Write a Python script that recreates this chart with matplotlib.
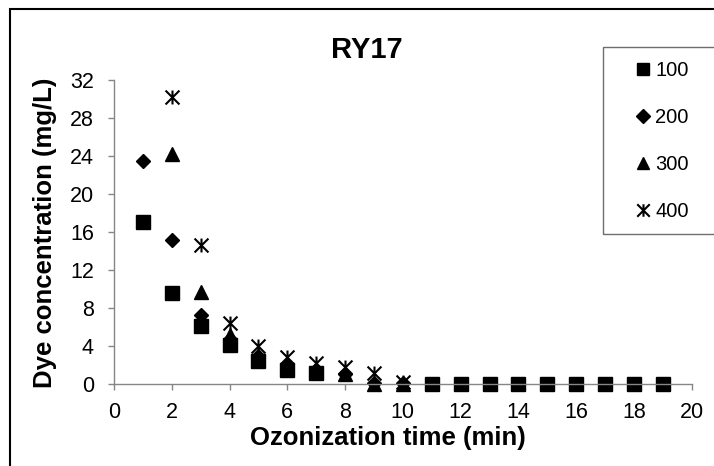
import numpy as np
import matplotlib
matplotlib.use("Agg")
import matplotlib.pyplot as plt
from matplotlib.path import Path
from matplotlib.patches import Rectangle

plt.rcParams['font.family'] = ['Liberation Sans', 'DejaVu Sans']

# Data (NaN = no visible point)
time_min = np.arange(1, 20)
dye_100 = [17.1, 9.6, 6.1, 4.1, 2.5, 1.5, 1.2, np.nan, np.nan, np.nan,
           0, 0, 0, 0, 0, 0, 0, 0, 0]
dye_200 = [23.5, 15.2, 7.3, 4.8, 3.0, 2.0, 1.5, 1.1, 0.1, 0.1] + [np.nan] * 9
dye_300 = [np.nan, 24.2, 9.7, 5.2, 3.0, 2.2, 1.6, 1.1, 0, 0] + [np.nan] * 9
dye_400 = [np.nan, 30.2, 14.7, 6.5, 4.0, 2.9, 2.2, 1.8, 1.2, 0.3] + [np.nan] * 9
labels = ["100", "200", "300", "400"]

# Excel-style asterisk marker: X plus vertical bar
star = Path([(-1, -1), (1, 1), (-1, 1), (1, -1), (0, -1), (0, 1)],
            [Path.MOVETO, Path.LINETO] * 3)

fig = plt.figure(figsize=(7.14, 4.66), dpi=100)
ax = fig.add_axes([0.1597, 0.1751, 0.8091, 0.6526])

h1, = ax.plot(time_min, dye_100, ls='none', marker='s', ms=10, color='black', clip_on=False)
h2, = ax.plot(time_min, dye_200, ls='none', marker='D', ms=7.5, color='black', clip_on=False)
h3, = ax.plot(time_min, dye_300, ls='none', marker='^', ms=10, color='black', clip_on=False)
h4, = ax.plot(time_min, dye_400, ls='none', marker=star, ms=10, mfc='none',
              mec='black', mew=1.5, clip_on=False)

ax.set_xlim(0, 20)
ax.set_ylim(0, 32)
ax.set_xticks(range(0, 21, 2))
ax.set_yticks(range(0, 33, 4))

for side in ['top', 'right']:
    ax.spines[side].set_visible(False)
for side in ['left', 'bottom']:
    ax.spines[side].set_color('#868686')
    ax.spines[side].set_linewidth(1)
ax.tick_params(axis='both', direction='out', length=4.5, width=1, color='#868686',
               labelsize=15.5, labelcolor='black')
ax.tick_params(axis='x', pad=8.5)
ax.tick_params(axis='y', pad=10)

ax.set_xlabel("Ozonization time (min)", fontsize=18.5, fontweight='bold', va='top')
ax.xaxis.set_label_coords(0.474, -0.137)
ax.set_ylabel("Dye concentration (mg/L)", fontsize=18.5, fontweight='bold')
ax.yaxis.set_label_coords(-0.099, 0.5)

fig.text(366.7 / 714, 1 - 58.3 / 466, "RY17", ha='center', va='baseline',
         fontsize=21, fontweight='bold')

# legend (box drawn separately; it runs off the right edge like the original)
fig.legend([h1, h2, h3, h4], labels, loc='upper left',
           bbox_to_anchor=(637 / 714, 1 - 61.5 / 466), frameon=False,
           fontsize=14.5, handlelength=0.6, handletextpad=0.3, borderpad=0,
           borderaxespad=0, labelspacing=1.39, numpoints=1, markerscale=0.9)
fig.add_artist(Rectangle((603 / 714, 1 - 234 / 466), 0.3, (234 - 46.7) / 466,
                         transform=fig.transFigure, fill=False,
                         edgecolor='#6e6e6e', lw=1))

# outer chart border
fig.add_artist(Rectangle((10 / 714, -0.1), 1.2, 1 - 9 / 466 + 0.1,
                         transform=fig.transFigure, fill=False,
                         edgecolor='black', lw=1.5))

fig.savefig("out.png", dpi=100)
